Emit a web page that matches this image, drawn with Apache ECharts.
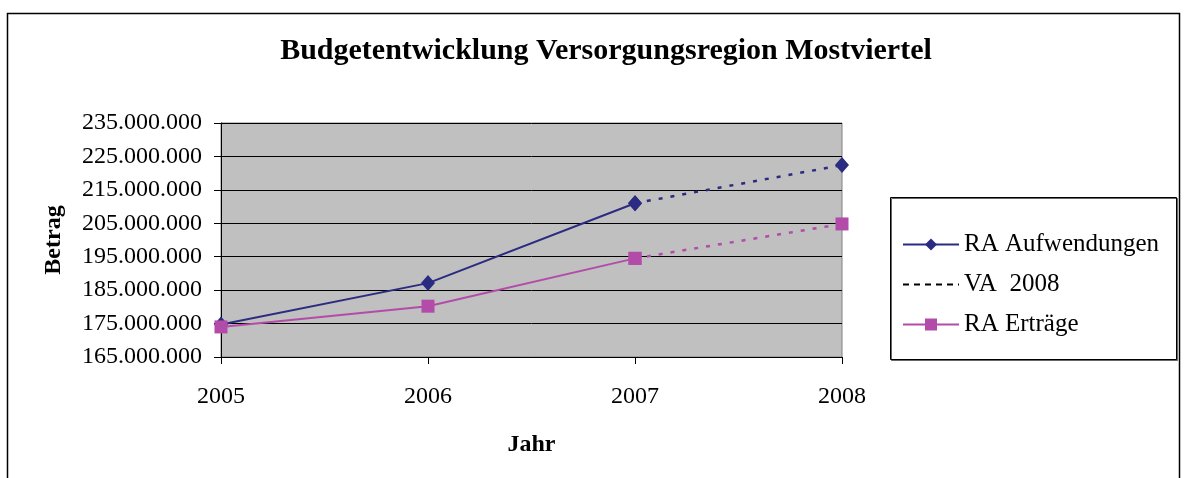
<!DOCTYPE html>
<html>
<head>
<meta charset="utf-8">
<script src="https://cdn.jsdelivr.net/npm/echarts@6/dist/echarts.min.js"></script>
<style>
  html, body { margin: 0; padding: 0; background: #fff; }
  #main { width: 1187px; height: 478px; }
</style>
</head>
<body>
<div id="main"></div>
<script>
// data
var years = ['2005', '2006', '2007', '2008'];
var aufwendungen = [174700000, 187100000, 211000000, 222400000];
var ertraege = [174000000, 180200000, 194500000, 204800000];
var dashFrom = 2; // VA 2008 starts at 2007

var navy = '#2b2b82';
var pink = '#b24ca8';
var font = 'Liberation Serif';

// solid part up to 2007, dashed part 2007 -> 2008
function solidPart(arr) {
    return arr.map(function (v, i) { return i <= dashFrom ? v : null; });
}
function dashPart(arr) {
    return arr.map(function (v, i) { return i >= dashFrom ? v : null; });
}

function fmt(v) {
    return String(v).replace(/\B(?=(\d{3})+(?!\d))/g, '.');
}

var myChart = echarts.init(document.getElementById('main'));

option = {
    backgroundColor: '#fff',
    animation: false,
    textStyle: { fontFamily: font, color: '#000' },
    title: {
        text: 'Budgetentwicklung Versorgungsregion Mostviertel',
        left: 601,
        textAlign: 'center',
        top: 31,
        textStyle: { fontFamily: font, fontWeight: 'bold', fontSize: 30, color: '#000' }
    },
    graphic: [
        {
            type: 'rect',
            shape: { x: 7.5, y: 13.5, width: 1172, height: 480 },
            style: { fill: null, stroke: '#000', lineWidth: 1.5 },
            silent: true
        },
        {
            type: 'rect',
            shape: { x: 890.5, y: 197.5, width: 286, height: 162 },
            style: { fill: '#fff', stroke: '#000', lineWidth: 1, shadowColor: '#666', shadowOffsetX: 1, shadowOffsetY: 1 },
            z: -1,
            silent: true
        }
    ],
    legend: {
        left: 897,
        top: 227,
        orient: 'vertical',
        itemWidth: 56,
        itemHeight: 15,
        itemGap: 15,
        data: [
            'RA Aufwendungen',
            { name: 'VA  2008', itemStyle: { color: 'rgba(0,0,0,0)', borderWidth: 0 } },
            'RA Erträge'
        ],
        textStyle: { fontFamily: font, fontSize: 25, color: '#000' }
    },
    grid: {
        left: 221,
        right: 345,
        top: 123,
        bottom: 121,
        show: true,
        backgroundColor: '#c0c0c0',
        borderColor: '#808080',
        borderWidth: 1
    },
    xAxis: {
        type: 'category',
        data: years,
        boundaryGap: false,
        name: 'Jahr',
        nameLocation: 'middle',
        nameGap: 76,
        nameTextStyle: { fontFamily: font, fontWeight: 'bold', fontSize: 24, color: '#000' },
        axisLine: { lineStyle: { color: '#000', width: 1 } },
        axisTick: { show: true, length: 7, alignWithLabel: true, lineStyle: { color: '#000' } },
        axisLabel: { margin: 28, fontFamily: font, fontSize: 24, color: '#000' },
        splitLine: { show: false }
    },
    yAxis: {
        type: 'value',
        min: 165000000,
        max: 235000000,
        interval: 10000000,
        name: 'Betrag',
        nameLocation: 'middle',
        nameGap: 155,
        nameRotate: 90,
        nameTextStyle: { fontFamily: font, fontWeight: 'bold', fontSize: 24, color: '#000' },
        axisLine: { show: true, lineStyle: { color: '#000', width: 1 } },
        axisTick: { show: true, length: 7, lineStyle: { color: '#000' } },
        axisLabel: {
            margin: 19,
            fontFamily: font,
            fontSize: 24,
            color: '#000',
            formatter: fmt
        },
        splitLine: { show: true, lineStyle: { color: '#000', width: 1 } }
    },
    series: [
        {
            name: 'RA Aufwendungen',
            type: 'line',
            data: solidPart(aufwendungen),
            symbol: 'diamond',
            symbolSize: [14, 16],
            color: navy,
            lineStyle: { color: navy, width: 2 },
            itemStyle: { color: navy },
            z: 3
        },
        {
            name: 'RA Aufwendungen VA',
            type: 'line',
            data: dashPart(aufwendungen),
            symbol: 'diamond',
            symbolSize: [14, 16],
            lineStyle: { color: navy, width: 2.5, type: [4, 8] },
            itemStyle: { color: navy },
            z: 3
        },
        {
            name: 'VA  2008',
            type: 'line',
            data: [],
            symbol: 'none',
            color: '#000',
            lineStyle: { color: '#000', width: 1.5, type: [6, 5] }
        },
        {
            name: 'RA Erträge',
            type: 'line',
            data: solidPart(ertraege),
            symbol: 'rect',
            symbolSize: 13,
            color: pink,
            lineStyle: { color: pink, width: 2 },
            itemStyle: { color: pink },
            z: 4
        },
        {
            name: 'RA Erträge VA',
            type: 'line',
            data: dashPart(ertraege),
            symbol: 'rect',
            symbolSize: 13,
            lineStyle: { color: pink, width: 2.5, type: [4, 8] },
            itemStyle: { color: pink },
            z: 4
        }
    ]
};

myChart.setOption(option);
</script>
</body>
</html>
